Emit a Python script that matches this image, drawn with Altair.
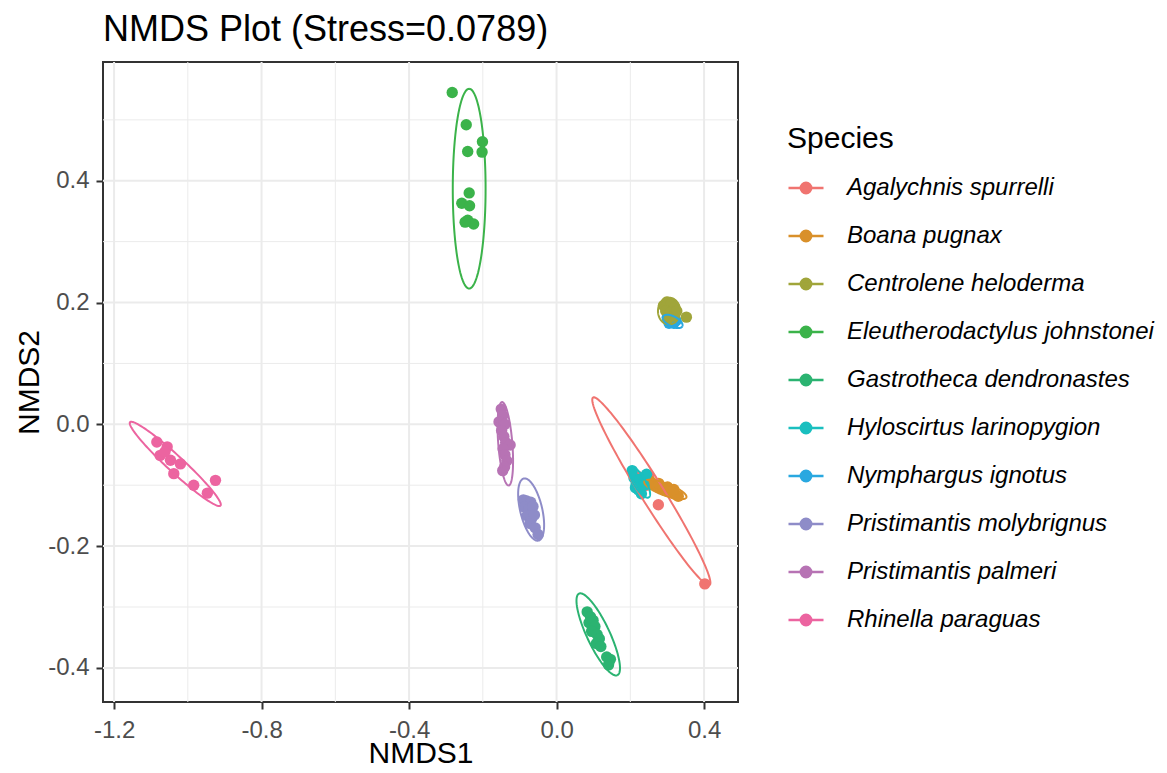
import altair as alt
import numpy as np
import pandas as pd

species = [
    "Agalychnis spurrelli", "Boana pugnax", "Centrolene heloderma",
    "Eleutherodactylus johnstonei", "Gastrotheca dendronastes",
    "Hyloscirtus larinopygion", "Nymphargus ignotus",
    "Pristimantis molybrignus", "Pristimantis palmeri", "Rhinella paraguas",
]
colors = ["#F07470", "#D9902A", "#A0A53A", "#3BB34A", "#2BB371",
          "#1ABFBF", "#29A8E0", "#8E8CC8", "#B773B4", "#EC64A0"]

# NMDS scores per species
agal_x = [0.222, 0.229, 0.250, 0.244, 0.276, 0.402]
agal_y = [-0.086, -0.099, -0.084, -0.100, -0.132, -0.262]
boan_x = [0.255, 0.263, 0.272, 0.281, 0.290, 0.298, 0.306, 0.314, 0.322, 0.330, 0.277, 0.301, 0.318]
boan_y = [-0.094, -0.098, -0.101, -0.104, -0.106, -0.108, -0.110, -0.112, -0.115, -0.118, -0.097, -0.103, -0.107]
cent_x = [0.290, 0.299, 0.311, 0.320, 0.296, 0.308, 0.318, 0.302, 0.326, 0.352]
cent_y = [0.195, 0.201, 0.198, 0.192, 0.186, 0.183, 0.178, 0.173, 0.186, 0.176]
eleu_x = [-0.283, -0.245, -0.201, -0.202, -0.241, -0.237, -0.257, -0.236, -0.241, -0.225, -0.248]
eleu_y = [0.545, 0.492, 0.464, 0.447, 0.448, 0.380, 0.363, 0.359, 0.335, 0.329, 0.332]
gast_x = [0.083, 0.092, 0.088, 0.099, 0.104, 0.095, 0.110, 0.116, 0.108, 0.120, 0.136, 0.146, 0.141]
gast_y = [-0.308, -0.316, -0.326, -0.322, -0.332, -0.340, -0.345, -0.352, -0.360, -0.365, -0.382, -0.386, -0.395]
hylo_x = [0.205, 0.210, 0.216, 0.222, 0.230, 0.227, 0.237, 0.244, 0.214]
hylo_y = [-0.076, -0.088, -0.098, -0.108, -0.114, -0.090, -0.100, -0.082, -0.104]
nymp_x = [0.300, 0.309, 0.318, 0.314, 0.305, 0.324]
nymp_y = [0.175, 0.170, 0.166, 0.178, 0.166, 0.170]
moly_x = [-0.090, -0.081, -0.070, -0.086, -0.075, -0.064, -0.080, -0.068, -0.060, -0.072, -0.058, -0.050]
moly_y = [-0.124, -0.126, -0.128, -0.136, -0.140, -0.135, -0.150, -0.155, -0.149, -0.163, -0.170, -0.181]
palm_x = [-0.150, -0.146, -0.156, -0.140, -0.149, -0.143, -0.138, -0.126, -0.145, -0.140, -0.135, -0.141, -0.146]
palm_y = [0.025, 0.014, 0.004, 0.000, -0.010, -0.020, -0.030, -0.034, -0.040, -0.050, -0.060, -0.070, -0.076]
rhin_x = [-1.084, -1.056, -1.075, -1.047, -1.020, -1.038, -0.984, -0.947, -0.925, -1.062]
rhin_y = [-0.029, -0.037, -0.051, -0.059, -0.065, -0.081, -0.100, -0.113, -0.092, -0.045]

# 95% ellipses: centre, major semi-axis offset, minor semi-axis offset
ell_cx = [0.257, 0.295, 0.305, -0.237, 0.113, 0.225, 0.315, -0.069, -0.139, -1.034]
ell_cy = [-0.110, -0.107, 0.186, 0.387, -0.345, -0.095, 0.169, -0.140, -0.032, -0.065]
ell_ax = [0.158, 0.057, 0.030, 0.0, 0.052, 0.025, 0.0259, 0.020, 0.009, 0.1226]
ell_ay = [-0.154, -0.013, 0.0, 0.164, -0.067, -0.025, -0.0082, -0.051, -0.0685, -0.0685]
ell_bx = [0.0264, 0.0058, 0.0, 0.0445, 0.0279, 0.014, 0.0064, 0.029, 0.019, 0.0148]
ell_by = [0.0099, 0.0092, 0.022, 0.0, 0.0079, 0.005, 0.0073, 0.0043, 0.0009, 0.0097]

major_x = [-1.2, -0.8, -0.4, 0.0, 0.4]
minor_x = [-1.0, -0.6, -0.2, 0.2]
major_y = [-0.4, -0.2, 0.0, 0.2, 0.4]
minor_y = [-0.3, -0.1, 0.1, 0.3, 0.5]

xs_all = [agal_x, boan_x, cent_x, eleu_x, gast_x, hylo_x, nymp_x, moly_x, palm_x, rhin_x]
ys_all = [agal_y, boan_y, cent_y, eleu_y, gast_y, hylo_y, nymp_y, moly_y, palm_y, rhin_y]

# draw order of points (Nymphargus lies beneath Centrolene)
draw_order = [6, 0, 1, 2, 3, 4, 5, 7, 8, 9]
rows = []
for k in draw_order:
    for x, y in zip(xs_all[k], ys_all[k]):
        rows.append({"Species": species[k], "NMDS1": x, "NMDS2": y})
points_df = pd.DataFrame(rows)

t = np.linspace(0, 2 * np.pi, 145)
erows = []
for k, sp in enumerate(species):
    ex = ell_cx[k] + ell_ax[k] * np.cos(t) + ell_bx[k] * np.sin(t)
    ey = ell_cy[k] + ell_ay[k] * np.cos(t) + ell_by[k] * np.sin(t)
    for i in range(len(t)):
        erows.append({"Species": sp, "i": i, "NMDS1": ex[i], "NMDS2": ey[i]})
ell_df = pd.DataFrame(erows)

FONT = "Liberation Sans"
xscale = alt.Scale(domain=[-1.230, 0.492], nice=False, zero=False)
yscale = alt.Scale(domain=[-0.456, 0.595], nice=False, zero=False)
cscale = alt.Scale(domain=species, range=colors)

legend_path = "M-1,0L1,0M0.3,0A0.3,0.3,0,1,1,-0.3,0A0.3,0.3,0,1,1,0.3,0Z"
leg = alt.Legend(
    title="Species", orient="none", legendX=684, legendY=62,
    symbolType=legend_path, symbolSize=1225, symbolStrokeWidth=2.4,
    symbolOpacity=1, labelFontSize=24, labelFontStyle="italic",
    labelColor="black", labelFont=FONT, titleFont=FONT, titleFontSize=30,
    titleFontWeight="normal", titleColor="black", titlePadding=15,
    rowPadding=17, labelOffset=22, padding=0, labelLimit=500,
)

minus_fix = "replace(datum.label, '\u2212', '-')"
xaxis = alt.Axis(values=major_x, format=".1f", title="NMDS1", labelPadding=9,
                 titlePadding=-4, labelExpr=minus_fix)
yaxis = alt.Axis(values=major_y, format=".1f", title="NMDS2", labelPadding=7,
                 titlePadding=3, labelExpr=minus_fix)


def vrules(vals, w):
    return alt.Chart(pd.DataFrame({"v": vals})).mark_rule(
        color="#EBEBEB", strokeWidth=w).encode(
        x=alt.X("v:Q", scale=xscale, axis=xaxis))


def hrules(vals, w):
    return alt.Chart(pd.DataFrame({"v": vals})).mark_rule(
        color="#EBEBEB", strokeWidth=w).encode(
        y=alt.Y("v:Q", scale=yscale, axis=yaxis))


points = alt.Chart(points_df).mark_circle(size=130, opacity=1).encode(
    x=alt.X("NMDS1:Q", scale=xscale, axis=xaxis),
    y=alt.Y("NMDS2:Q", scale=yscale, axis=yaxis),
    fill=alt.Fill("Species:N", scale=cscale, legend=leg),
)

ellipses = alt.Chart(ell_df).mark_line(strokeWidth=2).encode(
    x=alt.X("NMDS1:Q", scale=xscale, axis=xaxis),
    y=alt.Y("NMDS2:Q", scale=yscale, axis=yaxis),
    stroke=alt.Stroke("Species:N", scale=cscale, legend=leg),
    detail="Species:N",
    order=alt.Order("i:Q"),
)

chart = alt.layer(
    vrules(minor_x, 1), hrules(minor_y, 1),
    vrules(major_x, 2), hrules(major_y, 2),
    points, ellipses,
).properties(
    width=635, height=640,
    autosize=alt.AutoSizeParams(type="none"),
    padding={"left": 95, "top": 54, "right": 421, "bottom": 63},
    title=alt.Title("NMDS Plot (Stress=0.0789)", anchor="start", frame="group",
                    fontSize=36, font=FONT, fontWeight="normal", color="black",
                    offset=12),
).configure_view(
    stroke="#333333", strokeWidth=2,
).configure_axis(
    labelFont=FONT, titleFont=FONT, labelFontSize=24, labelColor="#4D4D4D",
    titleFontSize=30, titleFontWeight="normal", titleColor="black",
    tickColor="#333333", tickSize=7, tickWidth=2, domain=False, grid=False,
)

chart.save("out.html", embed_options={"renderer": "svg", "actions": False})
